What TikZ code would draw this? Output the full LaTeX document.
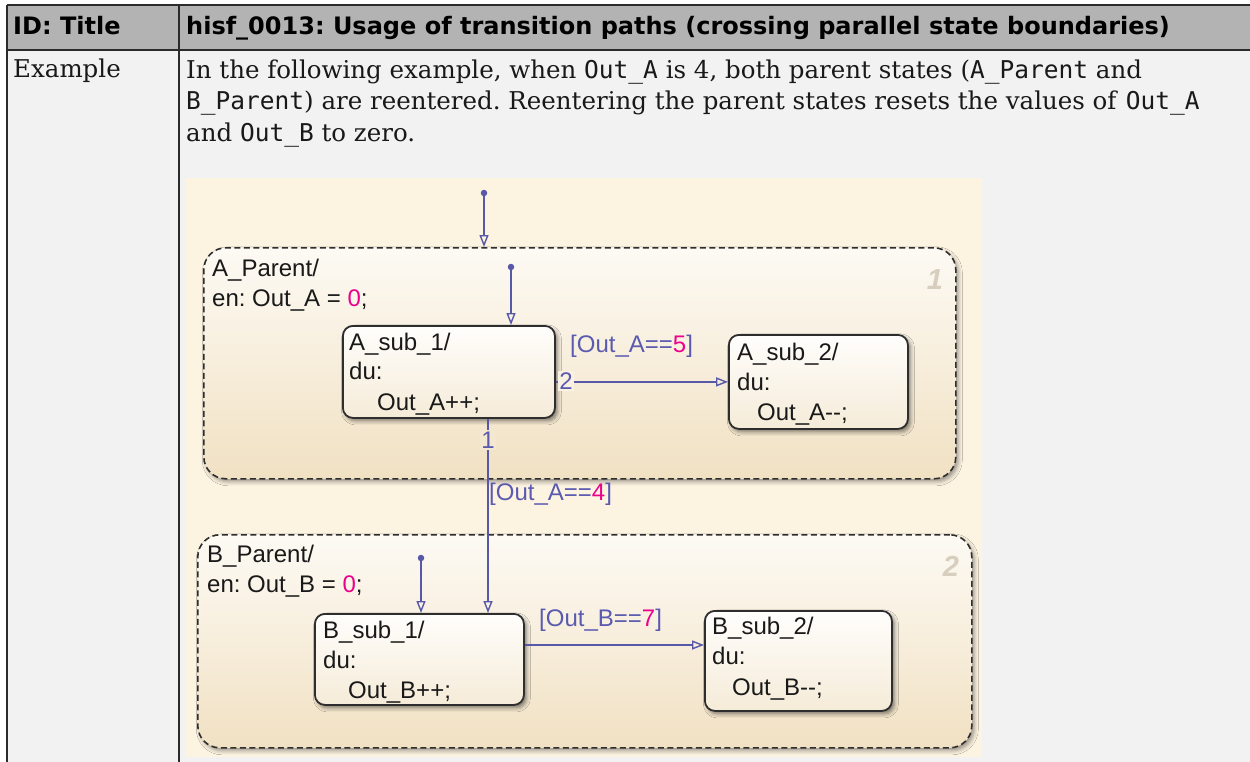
\documentclass[tikz,border=0pt]{standalone}
\usepackage{fontspec}
\setmainfont{DejaVu Serif}
\setmonofont{DejaVu Sans Mono}
\newfontfamily\hdrfont{DejaVu Sans}
\newfontfamily\chartfont{Liberation Sans}
\usetikzlibrary{arrows.meta,shadows.blur}
\frenchspacing
\definecolor{hdrgray}{HTML}{B3B3B3}
\definecolor{bodygray}{HTML}{F2F2F2}
\definecolor{tableline}{HTML}{2B2B2B}
\definecolor{chartbg}{HTML}{FDF3E1}
\definecolor{partop}{HTML}{FDFAF4}
\definecolor{parbot}{HTML}{F1E1C3}
\definecolor{subtop}{HTML}{FFFEFC}
\definecolor{subbot}{HTML}{F5EBD8}
\definecolor{transblue}{HTML}{5858A8}
\definecolor{labelblue}{HTML}{5A5AB0}
\definecolor{pnum}{HTML}{D8CEBE}
\definecolor{statedark}{HTML}{2E2E2E}
\definecolor{lblbgA}{HTML}{F4E8D0}
\definecolor{lblbgB}{HTML}{F9F1E2}
\tikzset{
  tline/.style={draw=tableline, line width=1.6pt},
  hdr/.style={font=\hdrfont\bfseries\fontsize{24}{28}\selectfont, anchor=base west, inner sep=0},
  bodytxt/.style={font=\frenchspacing\fontsize{24.5}{32}\selectfont, anchor=base west, inner sep=0, text=black!90},
  parent/.style={draw=statedark, dash pattern=on 6pt off 3.5pt, line width=1.6pt,
    rounded corners=22pt, top color=partop, bottom color=parbot,
    blur shadow={shadow xshift=2.5pt, shadow yshift=-3pt, shadow blur radius=4pt, shadow opacity=40},
    anchor=north west, inner sep=0},
  substate/.style={draw=statedark, line width=1.8pt, rounded corners=10pt,
    top color=subtop, bottom color=subbot,
    blur shadow={shadow xshift=2.5pt, shadow yshift=-3pt, shadow blur radius=4pt, shadow opacity=50},
    anchor=north west, inner sep=0},
  ctext/.style={font=\chartfont\fontsize{24}{28}\selectfont, anchor=base west, inner sep=0, text=black!90},
  tlabel/.style={ctext, text=labelblue},
  tnum/.style={font=\chartfont\fontsize{24}{28}\selectfont, text=labelblue, inner sep=1.5pt},
  trans/.style={draw=transblue, line width=1.4pt, -{Triangle[open, length=12pt, width=9pt]}},
  tdot/.style={circle, fill=transblue, inner sep=0, minimum size=6.5pt},
  pnumber/.style={font=\chartfont\bfseries\itshape\fontsize{29}{29}\selectfont, text=pnum, inner sep=0}
}
\begin{document}
\begin{tikzpicture}[x=1pt,y=-1pt]
\useasboundingbox (0,0) rectangle (1250,762);
% table
\fill[white] (0,0) rectangle (1250,762);
\fill[hdrgray] (7,5) rectangle (1250,50);
\fill[bodygray] (7,50) rectangle (1250,762);
\draw[tline] (7,5) -- (1250,5);
\draw[tline] (7,50) -- (1250,50);
\draw[tline] (7,5) -- (7,762);
\draw[tline] (179,5) -- (179,762);
\node[hdr] (idt) at (13,35) {ID: Title};
\node[hdr] (ttl) at (186,35) {hisf\_0013: Usage of transition paths (crossing parallel state boundaries)};
\node[bodytxt] (ex) at (13,78) {Example};
\node[bodytxt] (l1) at (186,79) {In the following example, when \texttt{Out\_A} is 4, both parent states (\texttt{A\_Parent} and};
\node[bodytxt] (l2) at (186,110) {\texttt{B\_Parent}) are reentered. Reentering the parent states resets the values of \texttt{Out\_A}};
\node[bodytxt] (l3) at (186,142) {and \texttt{Out\_B} to zero.};
% chart
\fill[chartbg] (185,178) rectangle (982,757);
\node[parent, minimum width=752pt, minimum height=231pt] (aparent) at (203,247) {};
\node[parent, minimum width=774pt, minimum height=213pt] (bparent) at (197,534) {};
\node[ctext] (apl1) at (212,276) {A\_Parent/};
\node[ctext] (apl2) at (212,306) {en: Out\_A = \textcolor{magenta}{0};};
\node[pnumber] (pn1) at (935,280) {1};
\node[ctext] (bpl1) at (207,562) {B\_Parent/};
\node[ctext] (bpl2) at (207,592) {en: Out\_B = \textcolor{magenta}{0};};
\node[pnumber] (pn2) at (951,566) {2};
% sub states
\node[substate, minimum width=212pt, minimum height=92pt] (asub1) at (342,325) {};
\node[substate, minimum width=179pt, minimum height=94pt] (asub2) at (728,334) {};
\node[substate, minimum width=209pt, minimum height=91pt] (bsub1) at (314,613) {};
\node[substate, minimum width=187pt, minimum height=100pt] (bsub2) at (704,610) {};
\node[ctext] (a1t1) at (349,350) {A\_sub\_1/};
\node[ctext] (a1t2) at (349,379) {du:};
\node[ctext] (a1t3) at (377,410) {Out\_A++;};
\node[ctext] (a2t1) at (737,360) {A\_sub\_2/};
\node[ctext] (a2t2) at (737,390) {du:};
\node[ctext] (a2t3) at (757,420) {Out\_A--;};
\node[ctext] (b1t1) at (323,638) {B\_sub\_1/};
\node[ctext] (b1t2) at (323,668) {du:};
\node[ctext] (b1t3) at (348,698) {Out\_B++;};
\node[ctext] (b2t1) at (712,634) {B\_sub\_2/};
\node[ctext] (b2t2) at (712,664) {du:};
\node[ctext] (b2t3) at (732,695) {Out\_B--;};
% default transitions
\node[tdot] (d0) at (484,193) {};
\node[tdot] (da) at (511,267) {};
\node[tdot] (db) at (421,558) {};
\draw[trans] (d0) -- (aparent.north -| d0);
\draw[trans] (da) -- (asub1.north -| da);
\draw[trans] (db) -- (bsub1.north -| db);
% transitions
\coordinate (t1x) at (488,0);
\coordinate (tby) at (0,645);
\draw[trans] (asub1.east |- asub2.west) -- (asub2.west);
\draw[trans] (asub1.south -| t1x) -- (bsub1.north -| t1x);
\draw[trans] (bsub1.east |- tby) -- (bsub2.west |- tby);
\node[tnum, fill=lblbgB] (n2) at (566,381) {2};
\node[tnum, fill=lblbgA] (n1) at (488,440) {1};
\node[tlabel] (g5) at (570,352) {[Out\_A==\textcolor{magenta}{5}]};
\node[tlabel] (g4) at (489,500) {[Out\_A==\textcolor{magenta}{4}]};
\node[tlabel] (g7) at (539,626) {[Out\_B==\textcolor{magenta}{7}]};
\end{tikzpicture}
\end{document}
